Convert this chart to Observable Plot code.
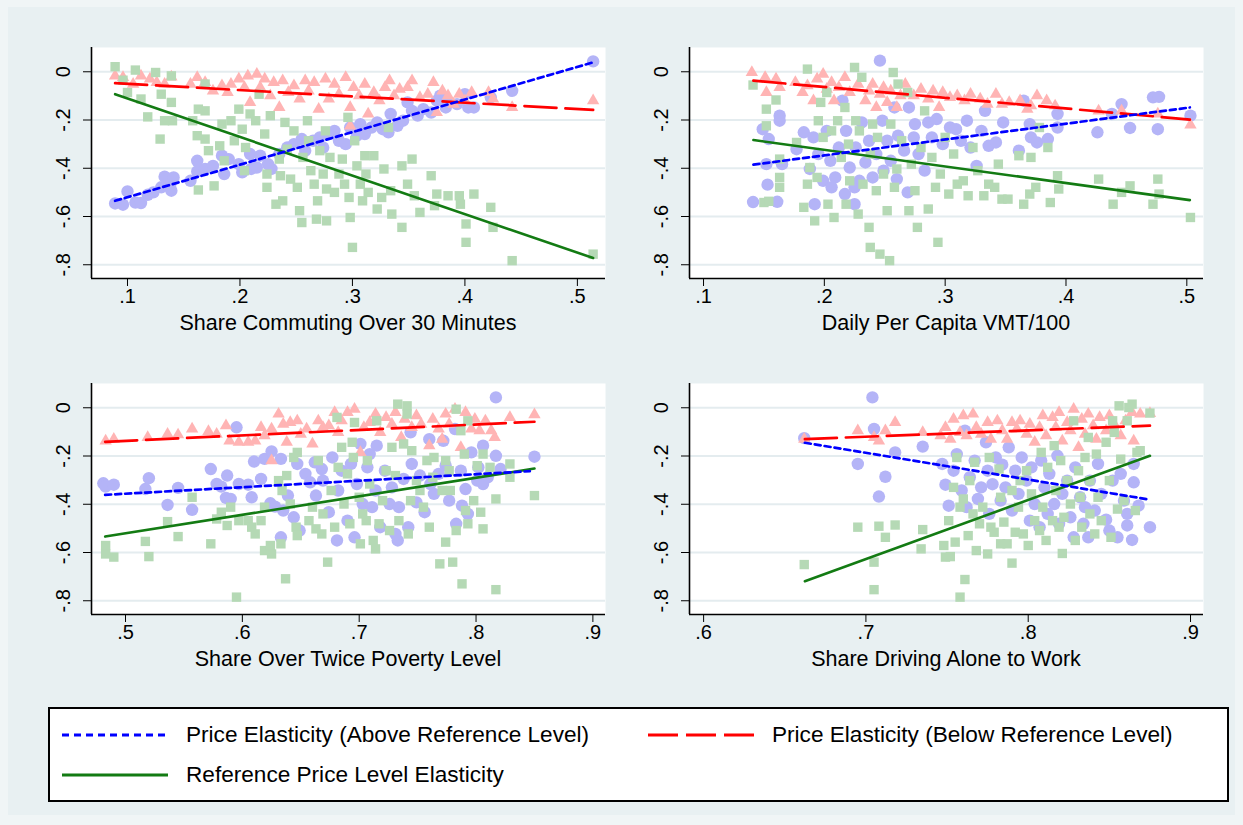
<!DOCTYPE html>
<html><head><meta charset="utf-8">
<script src="https://cdn.jsdelivr.net/npm/d3@7"></script>
<script src="https://cdn.jsdelivr.net/npm/@observablehq/plot@0.6"></script>
<style>
html,body{margin:0;padding:0;background:#f0f5f6;}
#page{position:relative;width:1243px;height:825px;background:#f0f5f6;font-family:"Liberation Sans",Arial,sans-serif;overflow:hidden;}
#inner{position:absolute;left:8px;top:7px;width:1227px;height:808px;background:#e8f0f2;}
.pn{position:absolute;}
.ttl{position:absolute;width:514px;text-align:center;font-size:21.5px;line-height:22px;color:#000;white-space:nowrap;}
#legend{position:absolute;left:48px;top:707px;width:1177px;height:91px;border:2px solid #000;background:#fff;}
.li{position:absolute;font-size:22.6px;line-height:24px;white-space:nowrap;color:#000;}
</style></head>
<body><div id="page"><div id="inner"></div></div>
<script>
// ---------- shared ticks ----------
const yTicks = [0, -0.2, -0.4, -0.6, -0.8];
const yDomain = [-0.857, 0.1006];
const xTicks1 = [0.1, 0.2, 0.3, 0.4, 0.5];
const xTicks2 = [0.1, 0.2, 0.3, 0.4, 0.5];
const xTicks3 = [0.5, 0.6, 0.7, 0.8, 0.9];
const xTicks4 = [0.6, 0.7, 0.8, 0.9];
const titles = ["Share Commuting Over 30 Minutes", "Daily Per Capita VMT/100", "Share Over Twice Poverty Level", "Share Driving Alone to Work"];
const legendLabels = ["Price Elasticity (Above Reference Level)", "Price Elasticity (Below Reference Level)", "Reference Price Level Elasticity"];

// ---------- Panel 1: Share Commuting Over 30 Minutes ----------
const p1Above = [[0.089,-0.546],[0.096,-0.551],[0.1,-0.496],[0.107,-0.542],[0.112,-0.544],[0.118,-0.51],[0.123,-0.5],[0.13,-0.479],[0.133,-0.435],[0.138,-0.466],[0.139,-0.493],[0.141,-0.438],[0.156,-0.452],[0.162,-0.369],[0.162,-0.413],[0.169,-0.403],[0.176,-0.39],[0.184,-0.348],[0.186,-0.424],[0.19,-0.362],[0.199,-0.383],[0.202,-0.417],[0.209,-0.341],[0.21,-0.403],[0.215,-0.397],[0.218,-0.348],[0.225,-0.383],[0.228,-0.403],[0.235,-0.341],[0.242,-0.314],[0.248,-0.3],[0.255,-0.279],[0.258,-0.327],[0.265,-0.286],[0.271,-0.272],[0.274,-0.314],[0.279,-0.258],[0.284,-0.245],[0.288,-0.286],[0.294,-0.3],[0.298,-0.231],[0.304,-0.265],[0.307,-0.217],[0.311,-0.258],[0.317,-0.231],[0.322,-0.21],[0.327,-0.238],[0.332,-0.251],[0.334,-0.175],[0.34,-0.224],[0.345,-0.203],[0.349,-0.127],[0.353,-0.162],[0.358,-0.182],[0.363,-0.155],[0.37,-0.169],[0.375,-0.12],[0.378,-0.099],[0.383,-0.148],[0.386,-0.127],[0.393,-0.134],[0.4,-0.093],[0.403,-0.148],[0.408,-0.148],[0.423,-0.106],[0.442,-0.079],[0.514,0.043]];
const p1Below = [[0.089,-0.017],[0.096,-0.023],[0.105,-0.051],[0.112,-0.017],[0.12,-0.03],[0.126,-0.044],[0.133,-0.051],[0.139,-0.021],[0.156,-0.051],[0.162,-0.023],[0.169,-0.044],[0.176,-0.079],[0.184,-0.058],[0.189,-0.086],[0.192,-0.051],[0.199,-0.03],[0.204,-0.065],[0.207,-0.017],[0.209,-0.127],[0.215,-0.01],[0.218,-0.065],[0.222,-0.03],[0.227,-0.099],[0.23,-0.044],[0.235,-0.148],[0.238,-0.037],[0.243,-0.086],[0.248,-0.058],[0.253,-0.113],[0.258,-0.037],[0.261,-0.079],[0.266,-0.044],[0.27,-0.155],[0.276,-0.03],[0.279,-0.113],[0.284,-0.051],[0.288,-0.093],[0.294,-0.023],[0.298,-0.148],[0.298,-0.224],[0.301,-0.065],[0.306,-0.099],[0.311,-0.051],[0.314,-0.175],[0.319,-0.086],[0.324,-0.12],[0.329,-0.065],[0.333,-0.037],[0.337,-0.099],[0.342,-0.072],[0.349,-0.065],[0.353,-0.037],[0.36,-0.106],[0.367,-0.093],[0.372,-0.044],[0.375,-0.169],[0.38,-0.079],[0.385,-0.099],[0.39,-0.134],[0.395,-0.093],[0.4,-0.12],[0.406,-0.086],[0.421,-0.086],[0.425,-0.113],[0.442,-0.148],[0.514,-0.12]];
const p1Ref = [[0.089,0.021],[0.096,-0.035],[0.1,-0.086],[0.107,0.007],[0.112,-0.113],[0.118,-0.187],[0.125,-0.003],[0.129,-0.279],[0.13,-0.093],[0.133,-0.203],[0.139,-0.017],[0.139,-0.127],[0.14,-0.203],[0.158,-0.203],[0.162,-0.265],[0.163,-0.155],[0.169,-0.162],[0.169,-0.279],[0.172,-0.327],[0.163,-0.49],[0.169,-0.051],[0.177,-0.473],[0.182,-0.307],[0.184,-0.217],[0.186,-0.369],[0.192,-0.203],[0.195,-0.286],[0.199,-0.155],[0.202,-0.238],[0.204,-0.41],[0.205,-0.314],[0.209,-0.175],[0.214,-0.203],[0.217,-0.093],[0.222,-0.258],[0.224,-0.424],[0.224,-0.479],[0.227,-0.182],[0.232,-0.549],[0.235,-0.362],[0.236,-0.431],[0.238,-0.535],[0.24,-0.21],[0.242,-0.321],[0.245,-0.445],[0.248,-0.245],[0.251,-0.479],[0.253,-0.576],[0.255,-0.625],[0.256,-0.355],[0.26,-0.203],[0.261,-0.286],[0.263,-0.41],[0.266,-0.466],[0.268,-0.611],[0.269,-0.535],[0.271,-0.327],[0.274,-0.424],[0.276,-0.245],[0.277,-0.618],[0.277,-0.486],[0.28,-0.355],[0.284,-0.5],[0.288,-0.424],[0.291,-0.362],[0.293,-0.466],[0.296,-0.189],[0.297,-0.521],[0.298,-0.604],[0.3,-0.728],[0.302,-0.286],[0.304,-0.39],[0.307,-0.466],[0.309,-0.535],[0.311,-0.348],[0.312,-0.424],[0.314,-0.5],[0.319,-0.348],[0.322,-0.569],[0.326,-0.521],[0.328,-0.403],[0.332,-0.231],[0.334,-0.493],[0.335,-0.59],[0.344,-0.39],[0.344,-0.645],[0.349,-0.466],[0.353,-0.362],[0.355,-0.514],[0.36,-0.583],[0.37,-0.431],[0.373,-0.555],[0.375,-0.507],[0.385,-0.514],[0.395,-0.514],[0.396,-0.549],[0.401,-0.631],[0.401,-0.707],[0.408,-0.507],[0.423,-0.562],[0.425,-0.645],[0.442,-0.783],[0.514,-0.756]];
const p1FitAbove = [[0.089,-0.535],[0.514,0.039]];
const p1FitBelow = [[0.089,-0.047],[0.514,-0.158]];
const p1FitRef = [[0.089,-0.093],[0.514,-0.772]];

// ---------- Panel 2: Daily Per Capita VMT/100 ----------
const p2Above = [[0.141,-0.54],[0.149,-0.238],[0.152,-0.383],[0.153,-0.468],[0.154,-0.279],[0.161,-0.539],[0.163,-0.182],[0.163,-0.203],[0.165,-0.383],[0.177,-0.321],[0.183,-0.251],[0.188,-0.403],[0.191,-0.272],[0.192,-0.549],[0.195,-0.341],[0.199,-0.452],[0.202,-0.245],[0.205,-0.369],[0.206,-0.479],[0.209,-0.438],[0.212,-0.314],[0.215,-0.12],[0.217,-0.507],[0.218,-0.245],[0.221,-0.397],[0.225,-0.479],[0.225,-0.549],[0.226,-0.314],[0.229,-0.452],[0.231,-0.21],[0.234,-0.376],[0.237,-0.286],[0.24,-0.438],[0.243,-0.341],[0.246,0.046],[0.248,-0.203],[0.249,-0.41],[0.252,-0.286],[0.255,-0.369],[0.258,-0.148],[0.26,-0.445],[0.261,-0.265],[0.266,-0.327],[0.269,-0.5],[0.27,-0.148],[0.274,-0.272],[0.275,-0.217],[0.278,-0.341],[0.283,-0.41],[0.286,-0.21],[0.289,-0.272],[0.293,-0.196],[0.298,-0.3],[0.304,-0.231],[0.309,-0.238],[0.313,-0.286],[0.318,-0.203],[0.321,-0.314],[0.326,-0.39],[0.33,-0.245],[0.333,-0.162],[0.336,-0.307],[0.342,-0.293],[0.348,-0.21],[0.361,-0.327],[0.365,-0.12],[0.37,-0.217],[0.371,-0.272],[0.376,-0.293],[0.385,-0.279],[0.393,-0.175],[0.393,-0.231],[0.426,-0.251],[0.438,-0.175],[0.446,-0.134],[0.453,-0.233],[0.472,-0.106],[0.477,-0.104],[0.476,-0.238],[0.503,-0.182]];
const p2Below = [[0.14,-0.003],[0.151,-0.023],[0.152,-0.086],[0.16,-0.03],[0.163,-0.065],[0.176,-0.044],[0.182,-0.086],[0.186,-0.058],[0.191,-0.12],[0.194,-0.03],[0.199,-0.01],[0.202,-0.072],[0.206,-0.044],[0.208,-0.12],[0.212,-0.065],[0.217,-0.023],[0.221,-0.086],[0.228,-0.051],[0.234,-0.12],[0.237,-0.079],[0.24,-0.051],[0.243,-0.148],[0.246,-0.093],[0.249,-0.065],[0.252,-0.127],[0.255,-0.079],[0.26,-0.148],[0.263,-0.099],[0.267,-0.051],[0.274,-0.099],[0.28,-0.072],[0.286,-0.113],[0.29,-0.079],[0.295,-0.148],[0.298,-0.086],[0.304,-0.106],[0.31,-0.099],[0.316,-0.12],[0.321,-0.093],[0.329,-0.113],[0.335,-0.134],[0.342,-0.093],[0.347,-0.134],[0.353,-0.127],[0.362,-0.12],[0.368,-0.155],[0.371,-0.141],[0.376,-0.099],[0.384,-0.12],[0.391,-0.141],[0.427,-0.162],[0.446,-0.162],[0.476,-0.175],[0.503,-0.22]];
const p2Ref = [[0.141,-0.055],[0.15,-0.542],[0.152,-0.155],[0.152,-0.224],[0.154,-0.537],[0.16,-0.117],[0.163,-0.362],[0.163,-0.438],[0.163,-0.479],[0.177,-0.293],[0.183,-0.562],[0.186,0.011],[0.188,-0.397],[0.186,-0.466],[0.192,-0.618],[0.194,-0.438],[0.195,-0.203],[0.197,-0.127],[0.199,-0.272],[0.202,-0.086],[0.203,-0.549],[0.206,-0.245],[0.208,-0.604],[0.211,-0.203],[0.214,-0.355],[0.217,-0.148],[0.218,-0.549],[0.22,-0.3],[0.221,-0.452],[0.225,0.018],[0.226,-0.203],[0.228,-0.59],[0.229,-0.245],[0.231,-0.023],[0.232,-0.466],[0.237,-0.645],[0.238,-0.341],[0.238,-0.728],[0.24,-0.217],[0.243,-0.493],[0.244,-0.272],[0.246,-0.756],[0.249,-0.424],[0.252,-0.576],[0.254,-0.783],[0.255,-0.217],[0.257,-0.003],[0.258,-0.479],[0.26,-0.403],[0.261,-0.051],[0.264,-0.286],[0.269,-0.086],[0.27,-0.576],[0.272,-0.383],[0.275,-0.493],[0.277,-0.645],[0.28,-0.314],[0.283,-0.162],[0.286,-0.569],[0.289,-0.355],[0.292,-0.479],[0.294,-0.707],[0.296,-0.424],[0.3,-0.272],[0.303,-0.507],[0.307,-0.341],[0.31,-0.466],[0.315,-0.452],[0.319,-0.514],[0.323,-0.314],[0.327,-0.41],[0.332,-0.514],[0.336,-0.466],[0.341,-0.479],[0.344,-0.383],[0.347,-0.528],[0.352,-0.528],[0.361,-0.348],[0.365,-0.549],[0.37,-0.507],[0.371,-0.355],[0.375,-0.479],[0.378,-0.231],[0.385,-0.314],[0.387,-0.542],[0.393,-0.431],[0.394,-0.486],[0.427,-0.445],[0.439,-0.549],[0.446,-0.5],[0.453,-0.473],[0.472,-0.549],[0.476,-0.445],[0.477,-0.507],[0.503,-0.604]];
const p2FitAbove = [[0.1413,-0.385],[0.5025,-0.148]];
const p2FitBelow = [[0.1413,-0.037],[0.5025,-0.198]];
const p2FitRef = [[0.1413,-0.283],[0.5025,-0.532]];

// ---------- Panel 3: Share Over Twice Poverty Level ----------
const p3Above = [[0.481,-0.313],[0.483,-0.327],[0.49,-0.319],[0.517,-0.337],[0.52,-0.292],[0.536,-0.403],[0.545,-0.332],[0.557,-0.423],[0.573,-0.254],[0.578,-0.316],[0.582,-0.327],[0.587,-0.281],[0.586,-0.374],[0.59,-0.378],[0.595,-0.081],[0.597,-0.316],[0.605,-0.319],[0.608,-0.371],[0.61,-0.223],[0.616,-0.295],[0.619,-0.212],[0.624,-0.396],[0.625,-0.181],[0.628,-0.41],[0.633,-0.537],[0.633,-0.212],[0.635,-0.426],[0.639,-0.364],[0.644,-0.454],[0.647,-0.233],[0.649,-0.509],[0.654,-0.274],[0.658,-0.309],[0.662,-0.226],[0.663,-0.364],[0.668,-0.254],[0.669,-0.302],[0.674,-0.433],[0.677,-0.206],[0.681,-0.55],[0.682,-0.343],[0.685,-0.261],[0.69,-0.468],[0.693,-0.233],[0.696,-0.537],[0.698,-0.316],[0.701,-0.15],[0.703,-0.399],[0.707,-0.247],[0.709,-0.192],[0.711,-0.412],[0.714,-0.343],[0.715,-0.157],[0.718,-0.495],[0.722,-0.261],[0.726,-0.399],[0.728,-0.33],[0.731,-0.523],[0.733,-0.55],[0.734,-0.412],[0.738,-0.295],[0.742,-0.495],[0.744,-0.102],[0.745,-0.233],[0.749,-0.392],[0.752,-0.281],[0.756,-0.433],[0.76,-0.13],[0.761,-0.316],[0.764,-0.357],[0.768,-0.274],[0.772,-0.137],[0.774,-0.24],[0.777,-0.385],[0.782,-0.088],[0.783,-0.481],[0.787,-0.261],[0.788,-0.406],[0.791,-0.337],[0.793,-0.44],[0.796,-0.185],[0.801,-0.302],[0.802,-0.247],[0.806,-0.316],[0.806,-0.157],[0.81,-0.288],[0.817,-0.199],[0.817,0.043],[0.821,-0.254],[0.85,-0.203]];
const p3Below = [[0.483,-0.137],[0.49,-0.13],[0.519,-0.123],[0.536,-0.109],[0.545,-0.112],[0.557,-0.088],[0.571,-0.098],[0.578,-0.109],[0.586,-0.074],[0.589,-0.137],[0.597,-0.143],[0.605,-0.143],[0.611,-0.137],[0.616,-0.081],[0.619,-0.116],[0.625,-0.088],[0.625,-0.219],[0.631,-0.026],[0.635,-0.068],[0.638,-0.143],[0.641,-0.061],[0.647,-0.054],[0.65,-0.109],[0.655,-0.088],[0.66,-0.15],[0.665,-0.054],[0.669,-0.081],[0.674,-0.074],[0.679,-0.019],[0.682,-0.102],[0.685,-0.054],[0.69,-0.019],[0.696,-0.006],[0.701,-0.185],[0.704,-0.081],[0.709,-0.061],[0.714,-0.026],[0.718,-0.102],[0.723,-0.04],[0.728,-0.068],[0.731,-0.019],[0.736,-0.123],[0.739,-0.047],[0.745,-0.081],[0.749,-0.033],[0.753,-0.068],[0.76,-0.157],[0.763,-0.047],[0.768,-0.088],[0.771,-0.13],[0.774,-0.026],[0.777,-0.068],[0.782,-0.006],[0.787,-0.164],[0.791,-0.019],[0.796,-0.088],[0.799,-0.047],[0.803,-0.095],[0.808,-0.054],[0.813,-0.095],[0.816,-0.123],[0.829,-0.04],[0.85,-0.029]];
const p3Ref = [[0.483,-0.571],[0.483,-0.606],[0.49,-0.619],[0.517,-0.554],[0.52,-0.617],[0.536,-0.472],[0.545,-0.534],[0.557,-0.371],[0.573,-0.564],[0.578,-0.461],[0.582,-0.433],[0.587,-0.488],[0.59,-0.412],[0.595,-0.785],[0.597,-0.468],[0.605,-0.468],[0.608,-0.495],[0.611,-0.523],[0.616,-0.468],[0.619,-0.412],[0.619,-0.592],[0.624,-0.571],[0.625,-0.606],[0.631,-0.302],[0.633,-0.564],[0.634,-0.343],[0.637,-0.709],[0.638,-0.281],[0.641,-0.399],[0.644,-0.206],[0.646,-0.495],[0.647,-0.185],[0.647,-0.53],[0.657,-0.468],[0.66,-0.412],[0.663,-0.502],[0.665,-0.219],[0.668,-0.523],[0.669,-0.44],[0.673,-0.64],[0.676,-0.343],[0.679,-0.495],[0.681,-0.04],[0.682,-0.247],[0.685,-0.164],[0.687,-0.399],[0.69,-0.274],[0.692,-0.481],[0.694,-0.143],[0.695,-0.206],[0.696,-0.061],[0.7,-0.371],[0.701,-0.564],[0.703,-0.44],[0.706,-0.468],[0.707,-0.219],[0.709,-0.316],[0.712,-0.55],[0.714,-0.585],[0.715,-0.054],[0.717,-0.481],[0.72,-0.385],[0.723,-0.261],[0.726,-0.509],[0.728,-0.164],[0.731,-0.281],[0.733,0.015],[0.734,-0.468],[0.738,-0.15],[0.741,0.008],[0.741,-0.026],[0.742,-0.523],[0.744,-0.385],[0.745,-0.178],[0.749,-0.302],[0.752,-0.343],[0.755,-0.412],[0.758,-0.219],[0.76,-0.495],[0.763,-0.288],[0.764,-0.206],[0.769,-0.647],[0.771,-0.343],[0.774,-0.219],[0.774,-0.557],[0.777,-0.261],[0.778,-0.343],[0.78,-0.64],[0.783,-0.006],[0.783,-0.509],[0.787,-0.095],[0.788,-0.73],[0.79,-0.192],[0.791,-0.426],[0.793,-0.054],[0.793,-0.481],[0.798,-0.385],[0.801,-0.24],[0.804,-0.433],[0.806,-0.192],[0.806,-0.502],[0.812,-0.247],[0.817,-0.378],[0.817,-0.754],[0.829,-0.288],[0.829,-0.233],[0.85,-0.364]];
const p3FitAbove = [[0.4826,-0.361],[0.846,-0.263]];
const p3FitBelow = [[0.4826,-0.141],[0.85,-0.058]];
const p3FitRef = [[0.4826,-0.534],[0.85,-0.252]];

// ---------- Panel 4: Share Driving Alone to Work ----------
const p4Above = [[0.662,-0.126],[0.695,-0.233],[0.704,0.043],[0.705,-0.088],[0.708,-0.368],[0.712,-0.286],[0.718,-0.185],[0.735,-0.161],[0.747,-0.233],[0.749,-0.319],[0.751,-0.406],[0.754,-0.261],[0.756,-0.192],[0.759,-0.343],[0.761,-0.095],[0.762,-0.412],[0.764,-0.288],[0.767,-0.219],[0.769,-0.378],[0.771,-0.33],[0.774,-0.143],[0.775,-0.261],[0.776,-0.44],[0.778,-0.317],[0.78,-0.206],[0.783,-0.385],[0.784,-0.236],[0.786,-0.33],[0.788,-0.164],[0.79,-0.426],[0.792,-0.261],[0.794,-0.357],[0.796,-0.206],[0.799,-0.302],[0.801,-0.468],[0.802,-0.247],[0.804,-0.399],[0.807,-0.495],[0.808,-0.219],[0.81,-0.33],[0.812,-0.44],[0.813,-0.274],[0.816,-0.399],[0.818,-0.199],[0.819,-0.481],[0.821,-0.357],[0.824,-0.302],[0.826,-0.454],[0.828,-0.537],[0.829,-0.247],[0.832,-0.371],[0.834,-0.481],[0.835,-0.412],[0.837,-0.537],[0.838,-0.302],[0.841,-0.426],[0.843,-0.233],[0.845,-0.357],[0.848,-0.464],[0.85,-0.509],[0.852,-0.302],[0.855,-0.537],[0.857,-0.274],[0.859,-0.385],[0.861,-0.44],[0.861,-0.488],[0.864,-0.548],[0.865,-0.309],[0.865,-0.233],[0.868,-0.406],[0.875,-0.495]];
const p4Below = [[0.662,-0.13],[0.695,-0.095],[0.705,-0.123],[0.708,-0.137],[0.712,-0.095],[0.718,-0.061],[0.735,-0.102],[0.746,-0.116],[0.749,-0.081],[0.752,-0.13],[0.754,-0.047],[0.758,-0.102],[0.76,-0.033],[0.762,-0.116],[0.766,-0.026],[0.768,-0.081],[0.771,-0.109],[0.775,-0.061],[0.777,-0.13],[0.781,-0.054],[0.784,-0.095],[0.787,-0.13],[0.79,-0.061],[0.793,-0.088],[0.795,-0.054],[0.799,-0.109],[0.801,-0.068],[0.804,-0.143],[0.807,-0.081],[0.809,-0.033],[0.811,-0.116],[0.815,-0.04],[0.817,-0.081],[0.819,-0.019],[0.821,-0.137],[0.824,-0.061],[0.826,-0.095],[0.828,-0.006],[0.831,-0.164],[0.833,-0.047],[0.835,-0.109],[0.837,-0.026],[0.84,-0.074],[0.842,-0.13],[0.844,-0.04],[0.848,-0.095],[0.85,-0.033],[0.853,-0.068],[0.857,-0.116],[0.86,-0.054],[0.864,-0.019],[0.865,-0.137],[0.869,-0.026],[0.875,-0.023]];
const p4Ref = [[0.662,-0.65],[0.695,-0.495],[0.705,-0.754],[0.705,-0.64],[0.708,-0.491],[0.712,-0.537],[0.718,-0.486],[0.735,-0.505],[0.734,-0.585],[0.748,-0.571],[0.749,-0.619],[0.751,-0.468],[0.752,-0.617],[0.754,-0.33],[0.755,-0.557],[0.756,-0.206],[0.758,-0.412],[0.758,-0.785],[0.76,-0.378],[0.761,-0.712],[0.763,-0.53],[0.764,-0.302],[0.766,-0.44],[0.767,-0.226],[0.768,-0.592],[0.77,-0.481],[0.772,-0.412],[0.775,-0.606],[0.776,-0.206],[0.777,-0.495],[0.779,-0.516],[0.782,-0.254],[0.783,-0.371],[0.783,-0.564],[0.785,-0.474],[0.787,-0.564],[0.79,-0.343],[0.79,-0.644],[0.792,-0.516],[0.794,-0.412],[0.795,-0.302],[0.797,-0.523],[0.799,-0.261],[0.8,-0.571],[0.802,-0.357],[0.804,-0.468],[0.807,-0.509],[0.808,-0.185],[0.809,-0.412],[0.811,-0.55],[0.812,-0.247],[0.815,-0.468],[0.816,-0.157],[0.817,-0.343],[0.819,-0.495],[0.82,-0.219],[0.821,-0.604],[0.822,-0.454],[0.824,-0.302],[0.826,-0.399],[0.828,-0.054],[0.829,-0.55],[0.831,-0.261],[0.832,-0.371],[0.833,-0.495],[0.835,-0.206],[0.837,-0.123],[0.838,-0.44],[0.838,-0.302],[0.841,-0.523],[0.842,-0.192],[0.843,-0.371],[0.845,-0.468],[0.848,-0.143],[0.85,-0.302],[0.851,-0.537],[0.852,-0.054],[0.853,-0.102],[0.855,-0.42],[0.856,0.008],[0.857,-0.213],[0.859,-0.385],[0.861,-0.054],[0.862,0.001],[0.864,0.015],[0.866,-0.426],[0.867,-0.185],[0.869,-0.178],[0.875,-0.022]];
const p4FitAbove = [[0.6624,-0.145],[0.875,-0.381]];
const p4FitBelow = [[0.6624,-0.13],[0.875,-0.074]];
const p4FitRef = [[0.6624,-0.719],[0.875,-0.199]];

// ---------- styling ----------
const COL = {above:"#0000ff", below:"#ff0000", ref:"#137b13"};
const FILL = {above:"#b4b4f7", below:"#ffb4b4", ref:"#b5d9b5"};
const DASH = {above:"6,4", below:"32,9", ref:null};
const LEGDASH = {above:"7,5", below:"30,8", ref:null};
const fmt = d => d === 0 ? "0" : String(d).replace("0.", ".");

const panels = [
  {xDomain:[0.068,0.525], xTicks:xTicks1, above:p1Above, below:p1Below, ref:p1Ref, fa:p1FitAbove, fb:p1FitBelow, fr:p1FitRef, left:0, top:0, title:titles[0]},
  {xDomain:[0.0884,0.5138], xTicks:xTicks2, above:p2Above, below:p2Below, ref:p2Ref, fa:p2FitAbove, fb:p2FitBelow, fr:p2FitRef, left:598, top:0, title:titles[1]},
  {xDomain:[0.4709,0.9108], xTicks:xTicks3, above:p3Above, below:p3Below, ref:p3Ref, fa:p3FitAbove, fb:p3FitBelow, fr:p3FitRef, left:0, top:336, title:titles[2]},
  {xDomain:[0.5913,0.908], xTicks:xTicks4, above:p4Above, below:p4Below, ref:p4Ref, fa:p4FitAbove, fb:p4FitBelow, fr:p4FitRef, left:598, top:336, title:titles[3]}
];

const page = document.getElementById("page");
const W = 621, H = 335, ML = 91, MR = 16, MT = 47, MB = 57;
const X = d => d[0], Y = d => d[1];

for (const p of panels) {
  const chart = Plot.plot({
    width: W, height: H, marginLeft: ML, marginRight: MR, marginTop: MT, marginBottom: MB,
    x: {domain: p.xDomain, axis: null},
    y: {domain: yDomain, axis: null},
    style: {background: "transparent", fontFamily: "'Liberation Sans', Arial, sans-serif", color: "#000", overflow: "visible"},
    marks: [
      Plot.frame({fill: "white", stroke: null}),
      Plot.gridY(yTicks, {stroke: "#e4ecef", strokeOpacity: 1, strokeWidth: 2}),
      Plot.dot(p.above, {x: X, y: Y, symbol: "circle", r: 6.2, fill: FILL.above}),
      Plot.dot(p.below, {x: X, y: Y, symbol: "triangle", r: 4.6, fill: FILL.below}),
      Plot.dot(p.ref, {x: X, y: Y, symbol: "square", r: 5.3, fill: FILL.ref}),
      Plot.line(p.fr, {x: X, y: Y, stroke: COL.ref, strokeWidth: 2.6}),
      Plot.line(p.fb, {x: X, y: Y, stroke: COL.below, strokeWidth: 2.7, strokeDasharray: DASH.below}),
      Plot.line(p.fa, {x: X, y: Y, stroke: COL.above, strokeWidth: 2.7, strokeDasharray: DASH.above}),
      Plot.ruleX([p.xDomain[0]], {stroke: "#000", strokeWidth: 1.6}),
      Plot.ruleY([yDomain[0]], {stroke: "#000", strokeWidth: 1.6}),
      Plot.axisX(p.xTicks, {tickSize: 8, tickPadding: 2, tickFormat: fmt, fontSize: 20, label: null}),
      Plot.axisY(yTicks, {tickSize: 8, tickFormat: () => "", label: null}),
      Plot.text(yTicks, {y: d => d, frameAnchor: "left", text: fmt, rotate: -90, dx: -28, textAnchor: "middle", lineAnchor: "middle", fontSize: 20, fill: "#000"})
    ]
  });
  chart.classList.add("pn");
  chart.style.left = p.left + "px";
  chart.style.top = p.top + "px";
  page.appendChild(chart);
  const t = document.createElement("div");
  t.className = "ttl";
  t.textContent = p.title;
  t.style.left = (p.left + ML) + "px";
  t.style.top = (p.top + 312) + "px";
  page.appendChild(t);
}

// ---------- legend ----------
const legend = document.createElement("div");
legend.id = "legend";
page.appendChild(legend);
const items = [
  {label: legendLabels[0], key: "above", lx: 12, ty: 26},
  {label: legendLabels[1], key: "below", lx: 598, ty: 26},
  {label: legendLabels[2], key: "ref", lx: 12, ty: 66}
];
for (const it of items) {
  const svg = d3.create("svg").attr("width", 110).attr("height", 10)
    .style("position", "absolute").style("left", it.lx + "px").style("top", (it.ty - 5) + "px");
  svg.append("line").attr("x1", 0).attr("x2", 106).attr("y1", 5).attr("y2", 5)
    .attr("stroke", COL[it.key]).attr("stroke-width", 3)
    .attr("stroke-dasharray", LEGDASH[it.key]);
  legend.appendChild(svg.node());
  const tx = document.createElement("div");
  tx.className = "li";
  tx.textContent = it.label;
  tx.style.left = (it.lx + 124) + "px";
  tx.style.top = (it.ty - 12) + "px";
  legend.appendChild(tx);
}
</script>
</body></html>
